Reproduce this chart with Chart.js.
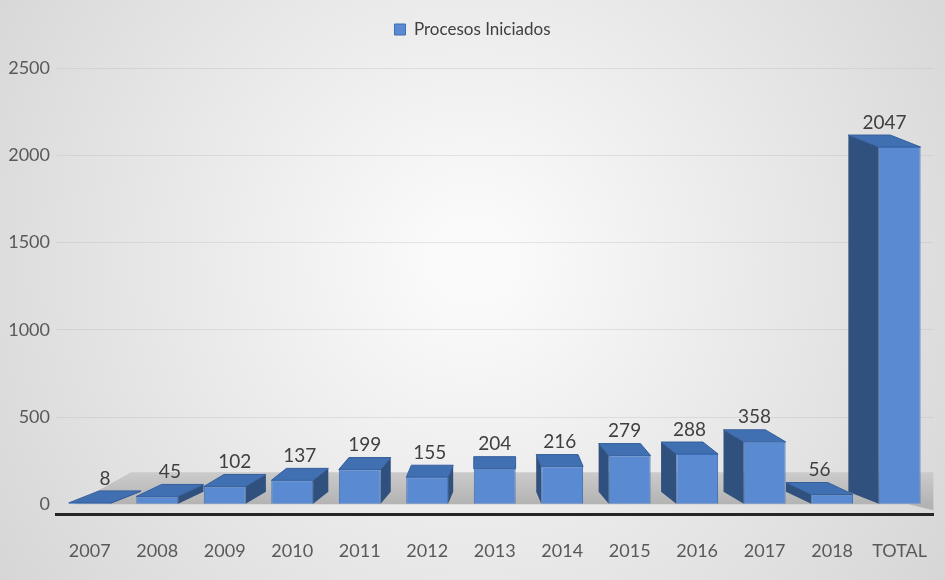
<!DOCTYPE html>
<html>
<head>
<meta charset="utf-8">
<script src="https://cdn.jsdelivr.net/npm/chart.js@4/dist/chart.umd.min.js"></script>
<style>
  html, body { margin: 0; padding: 0; background: #e6e6e6; }
  #wrap { width: 945px; height: 580px; }
</style>
</head>
<body>
<div id="wrap"><canvas id="grafico" width="945" height="580"></canvas></div>
<script>
const categorias = ['2007', '2008', '2009', '2010', '2011', '2012', '2013', '2014', '2015', '2016', '2017', '2018', 'TOTAL'];
const procesosIniciados = [8, 45, 102, 137, 199, 155, 204, 216, 279, 288, 358, 56, 2047];
const ticksY = [0, 500, 1000, 1500, 2000, 2500];

const fuente = "Lato, 'Open Sans', sans-serif";
const azulFrente = '#5a8bd2';
const azulTapa = '#4070b2';
const azulLado = '#30507d';

// fondo degradado del grafico
const fondo = {
    id: 'fondo',
    beforeDraw(chart) {
        const { ctx, width, height } = chart;
        const g = ctx.createRadialGradient(width * 0.5, height * 0.45, 40, width * 0.5, height * 0.45, width * 0.62);
        g.addColorStop(0, '#fafafa');
        g.addColorStop(1, '#d5d5d5');
        ctx.save();
        ctx.fillStyle = g;
        ctx.fillRect(0, 0, width, height);
        ctx.restore();
    }
};

// piso gris y caras laterales / superiores de las barras
const barras3d = {
    id: 'barras3d',
    beforeDatasetsDraw(chart) {
        const { ctx, chartArea } = chart;
        const y0 = chart.scales.y.getPixelForValue(0);
        ctx.save();
        const gp = ctx.createLinearGradient(0, y0 - 32, 0, y0);
        gp.addColorStop(0, '#cbcbcb');
        gp.addColorStop(1, '#b3b3b3');
        ctx.fillStyle = gp;
        ctx.beginPath();
        ctx.moveTo(chartArea.left + 18, y0);
        ctx.lineTo(chartArea.left + 75, y0 - 32);
        ctx.lineTo(chartArea.right, y0 - 32);
        ctx.lineTo(chartArea.right, y0 + 6);
        ctx.lineTo(chartArea.right - 25, y0);
        ctx.closePath();
        ctx.fill();

        const centro = (chartArea.left + chartArea.right) / 2;
        const meta = chart.getDatasetMeta(0);
        meta.data.forEach(bar => {
            const { x, y, base, width } = bar.getProps(['x', 'y', 'base', 'width'], true);
            const l = x - width / 2, r = x + width / 2;
            const dx = (centro - x) * 0.075;
            const dy = -12;
            // cara lateral
            ctx.fillStyle = azulLado;
            ctx.beginPath();
            const s = dx < 0 ? l : r;
            ctx.moveTo(s, y);
            ctx.lineTo(s + dx, y + dy);
            ctx.lineTo(s + dx, base + dy);
            ctx.lineTo(s, base);
            ctx.closePath();
            ctx.fill();
            // tapa
            ctx.fillStyle = azulTapa;
            ctx.strokeStyle = '#355f9c';
            ctx.lineWidth = 1;
            ctx.beginPath();
            ctx.moveTo(l, y);
            ctx.lineTo(r, y);
            ctx.lineTo(r + dx, y + dy);
            ctx.lineTo(l + dx, y + dy);
            ctx.closePath();
            ctx.fill();
            ctx.stroke();
        });
        ctx.restore();
    },
    afterDatasetsDraw(chart) {
        const { ctx, chartArea } = chart;
        const centro = (chartArea.left + chartArea.right) / 2;
        const meta = chart.getDatasetMeta(0);
        const valores = chart.data.datasets[0].data;
        ctx.save();
        ctx.fillStyle = '#404040';
        ctx.font = '19px ' + fuente;
        ctx.textAlign = 'center';
        ctx.textBaseline = 'bottom';
        meta.data.forEach((bar, i) => {
            const { x, y } = bar.getProps(['x', 'y'], true);
            const dx = (centro - x) * 0.075;
            ctx.fillText(String(valores[i]), x + dx / 2, y - 15);
        });
        ctx.restore();
    }
};

// mas espacio bajo la leyenda
const espacioLeyenda = {
    id: 'espacioLeyenda',
    beforeInit(chart) {
        const fitOriginal = chart.legend.fit;
        chart.legend.fit = function () {
            fitOriginal.bind(chart.legend)();
            this.height += 20;
        };
    }
};

new Chart(document.getElementById('grafico'), {
    type: 'bar',
    data: {
        labels: categorias,
        datasets: [{
            label: 'Procesos Iniciados',
            data: procesosIniciados,
            backgroundColor: azulFrente,
            borderColor: '#3d6db3',
            borderWidth: 1,
            barPercentage: 0.62,
            categoryPercentage: 1
        }]
    },
    options: {
        responsive: false,
        animation: false,
        layout: { padding: { top: 11, left: 0, right: 0, bottom: 0 } },
        plugins: {
            legend: {
                position: 'top',
                labels: {
                    boxWidth: 11,
                    boxHeight: 11,
                    padding: 10,
                    color: '#404040',
                    font: { family: fuente, size: 17 }
                }
            },
            tooltip: { enabled: false }
        },
        scales: {
            x: {
                grid: { display: false },
                border: { color: '#262626', width: 3 },
                ticks: { color: '#595959', padding: 18, font: { family: fuente, size: 18 } }
            },
            y: {
                min: -58,
                max: 2500,
                afterBuildTicks(scale) {
                    scale.ticks = ticksY.map(v => ({ value: v }));
                },
                afterFit(scale) { scale.width = 56; },
                border: { display: false },
                grid: {
                    drawTicks: false,
                    color: ctx => (ctx.tick && ctx.tick.value === 0) ? 'rgba(0,0,0,0)' : 'rgba(185,185,185,0.35)'
                },
                ticks: {
                    color: '#595959',
                    padding: 6,
                    font: { family: fuente, size: 18 },
                    callback: v => String(v)
                }
            }
        }
    },
    plugins: [fondo, barras3d, espacioLeyenda]
});
</script>
</body>
</html>
